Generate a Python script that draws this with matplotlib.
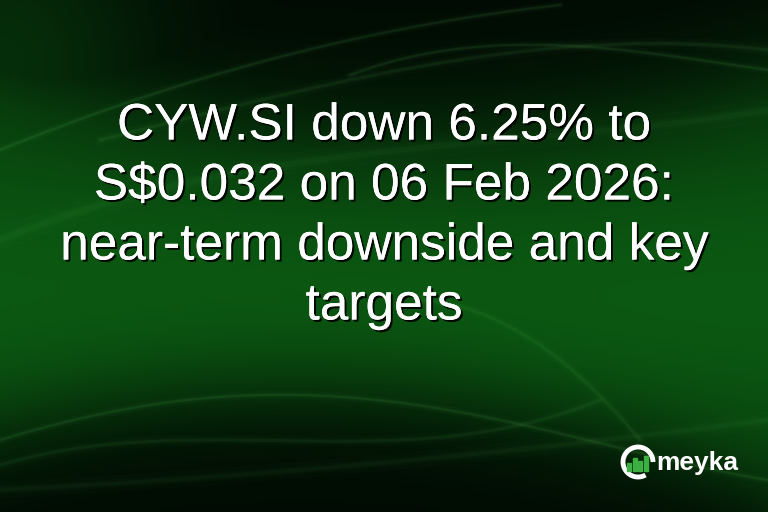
import numpy as np
import matplotlib
matplotlib.use("Agg")
import matplotlib.pyplot as plt
from matplotlib.patches import Arc, Rectangle
import matplotlib.patheffects as pe

title_lines = ["CYW.SI down 6.25% to", "S$0.032 on 06 Feb 2026:",
               "near-term downside and key", "targets"]
brand = "meyka"
logo_bars = [0.45, 0.7, 0.55, 0.85]

W, H = 768, 512
fig = plt.figure(figsize=(W / 100, H / 100), dpi=100)
ax = fig.add_axes([0, 0, 1, 1])
ax.set_xlim(0, W)
ax.set_ylim(H, 0)
ax.axis("off")

# background field
yy, xx = np.mgrid[0:H, 0:W].astype(float)
def sig(z):
    return 1 / (1 + np.exp(-z))
f1 = 160 - 0.00045 * (xx - 480) ** 2 - 0.06 * xx
upper = sig((yy - f1) / 35)
f2 = 395 + 0.00045 * (xx - 300) ** 2
lower = sig((f2 - yy) / 30)
g = upper * lower
g *= 0.75 + 0.25 * np.exp(-((yy - 300) ** 2) / 20000)
g = np.maximum(g, 0.45 * np.exp(-((xx) ** 2 + (yy - 60) ** 2) / 25000))
g = np.maximum(g, 0.5 * np.exp(-((xx - 768) ** 2) / 30000 - ((yy - 360) ** 2) / 12000))
g = np.clip(g, 0, 1)
img = np.zeros((H, W, 3))
img[..., 0] = 0.005 + 0.04 * g
img[..., 1] = 0.04 + 0.31 * g
img[..., 2] = 0.012 + 0.06 * g
ax.imshow(img, extent=[0, W, H, 0], aspect="auto", zorder=0, interpolation="bilinear")

# soft light streaks
def streak(xs, ys, a, lw):
    x = np.linspace(xs[0], xs[-1], 300)
    c = np.polyfit(xs, ys, len(xs) - 1)
    y = np.polyval(c, x)
    for k, (aa, ll) in enumerate([(a * 0.35, lw * 4), (a * 0.6, lw * 2), (a, lw)]):
        ax.plot(x, y, color="#6fdc6f", alpha=aa, lw=ll, zorder=1,
                solid_capstyle="round")

streak([0, 150, 350, 560], [150, 95, 40, 5], 0.07, 1.5)
streak([100, 350, 600, 768], [140, 80, 45, 50], 0.06, 2)
streak([350, 550, 700, 768], [75, 45, 60, 70], 0.07, 1.5)
streak([0, 200, 400, 768], [240, 180, 150, 110], 0.04, 4)
streak([0, 150, 300, 500, 768], [440, 405, 395, 420, 480], 0.07, 1.5)
streak([0, 200, 400, 600], [465, 440, 440, 400], 0.05, 2)
streak([420, 560, 640], [300, 360, 440], 0.05, 2)
streak([0, 300, 768], [490, 470, 420], 0.04, 3)

# title with drop shadow
shadow = [pe.withSimplePatchShadow(offset=(1.5, -1.5), shadow_rgbFace="black", alpha=0.9),
          pe.Normal()]
for i, line in enumerate(title_lines):
    ax.text(W / 2, 126 + i * 60, line, color="white", ha="center", va="center",
            fontsize=37, family="Liberation Sans", zorder=3, path_effects=shadow)

# logo
cx, cy, r = 638, 462, 15
ax.add_patch(Arc((cx, cy), 2 * r, 2 * r, theta1=60, theta2=360, color="white", lw=3.5, zorder=3))
bw = 5
for k, h in enumerate(logo_bars):
    x0 = cx - 11 + k * 5.5
    hh = h * 18
    ax.add_patch(Rectangle((x0, cy + 9 - hh), bw - 0.8, hh, color="#3cb043", zorder=4))
ax.text(656, 463, brand, color="white", ha="left", va="center", fontsize=19,
        fontweight="bold", family="Liberation Sans", zorder=3)

fig.savefig("out.png", dpi=100)
